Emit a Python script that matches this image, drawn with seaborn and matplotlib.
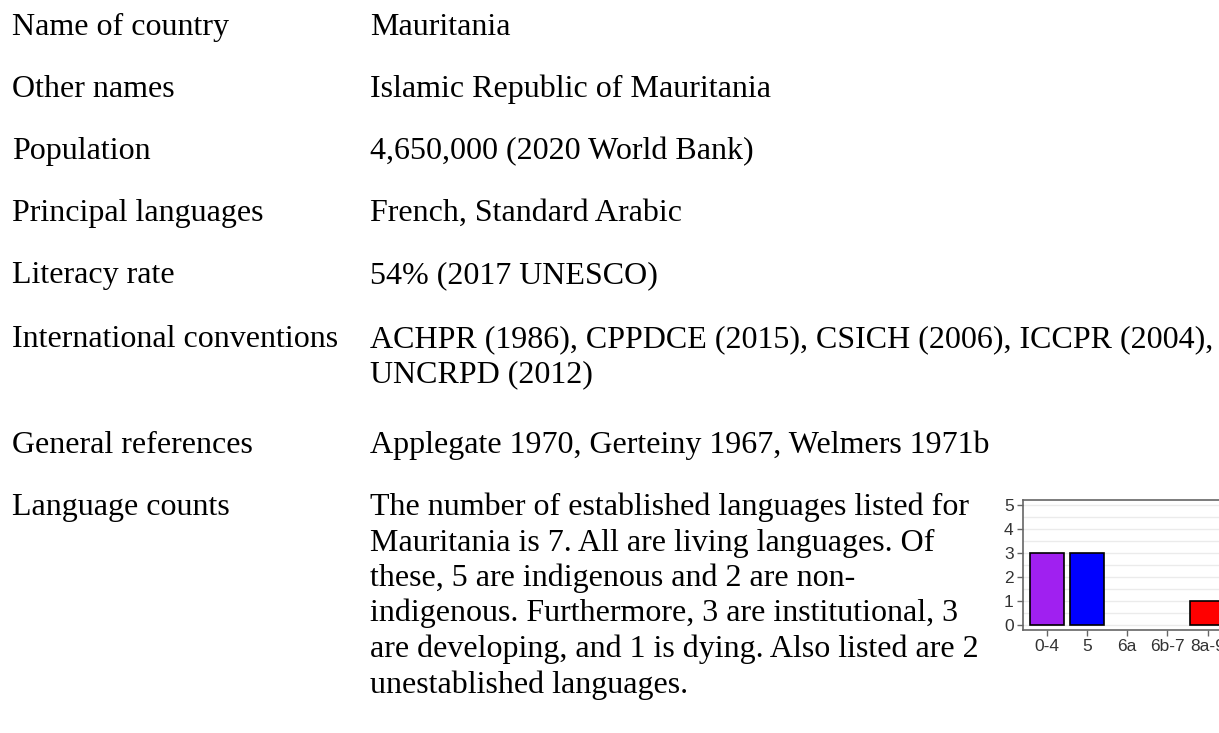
import matplotlib
matplotlib.use("Agg")
import matplotlib.pyplot as plt
from matplotlib.ticker import MultipleLocator
import seaborn as sns
import pandas as pd

# --- DATA ---
field_names = ["Name of country", "Other names", "Population", "Principal languages",
               "Literacy rate", "International conventions", "General references",
               "Language counts"]
field_values = [
    ["Mauritania"],
    ["Islamic Republic of Mauritania"],
    ["4,650,000 (2020 World Bank)"],
    ["French, Standard Arabic"],
    ["54% (2017 UNESCO)"],
    ["ACHPR (1986), CPPDCE (2015), CSICH (2006), ICCPR (2004),", "UNCRPD (2012)"],
    ["Applegate 1970, Gerteiny 1967, Welmers 1971b"],
    ["The number of established languages listed for",
     "Mauritania is 7. All are living languages. Of",
     "these, 5 are indigenous and 2 are non-",
     "indigenous. Furthermore, 3 are institutional, 3",
     "are developing, and 1 is dying. Also listed are 2",
     "unestablished languages."],
]

status_levels = ["0-4", "5", "6a", "6b-7", "8a-9", "10"]
status_counts = [3, 3, 0, 0, 1, 0]
status_colors = ["#a020f0", "#0000ff", "#00a000", "#ffd700", "#ff0000", "#000000"]

# --- LAYOUT ---
W, H = 1219, 733
row_baselines = [35, 97, 159, 221, 283, 347, 453, 515]
line_height = 35.5
label_x, value_x = 12, 370

sns.set_style("white")
plt.rcParams['font.family'] = ['Liberation Serif', 'DejaVu Serif']

fig = plt.figure(figsize=(W / 100, H / 100), dpi=100)
fig.patch.set_facecolor("white")

for name, lines, base in zip(field_names, field_values, row_baselines):
    fig.text(label_x / W, 1 - base / H, name, fontsize=23, va="baseline", ha="left", color="black")
    for k, line in enumerate(lines):
        y = base + k * line_height
        fig.text(value_x / W, 1 - y / H, line, fontsize=23, va="baseline", ha="left", color="black")

# --- small status bar chart (runs off the right edge, as in the page) ---
px_per_cat = 40.2
ax_left, ax_top, ax_bottom = 1022.7, 500, 630
ax_width = (len(status_levels) + 0.2) * px_per_cat
ax = fig.add_axes([ax_left / W, 1 - ax_bottom / H, ax_width / W, (ax_bottom - ax_top) / H])

df = pd.DataFrame({"level": status_levels, "count": status_counts})
sns.barplot(data=df, x="level", y="count", hue="level", palette=status_colors,
            saturation=1, edgecolor="black", linewidth=1.2, width=0.86,
            legend=False, ax=ax)
for p in ax.patches:
    if p.get_height() == 0:
        p.set_linewidth(0)

ax.set_xlim(-0.6, len(status_levels) - 0.4)
ax.set_ylim(-0.21, 5.21)
ax.yaxis.set_major_locator(MultipleLocator(1))
ax.yaxis.set_minor_locator(MultipleLocator(0.5))
ax.grid(True, axis="y", which="both", color="#ebebeb", linewidth=1)
ax.set_axisbelow(True)
ax.set_xlabel("")
ax.set_ylabel("")
for s in ax.spines.values():
    s.set_color("#666666")
    s.set_linewidth(1.2)
ax.tick_params(which="major", length=4.5, width=1, color="#666666", labelsize=12.5,
               labelcolor="#333333", pad=2, direction="out", bottom=True, left=True)
ax.tick_params(which="minor", length=0)
for lab in ax.get_xticklabels() + ax.get_yticklabels():
    lab.set_family(["Liberation Sans", "DejaVu Sans"])

fig.savefig("out.png", dpi=100, facecolor="white")
